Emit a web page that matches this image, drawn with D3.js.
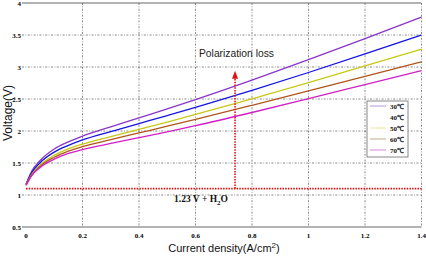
<!DOCTYPE html>
<html><head><meta charset="utf-8">
<script src="https://cdn.jsdelivr.net/npm/d3@7/dist/d3.min.js"></script>
<style>body{margin:0;background:#fff}svg{display:block}</style>
</head><body>
<svg id="c" width="426" height="256"></svg>
<script>
const currents = [0, 0.02, 0.05, 0.1, 0.15, 0.2, 0.3, 0.4, 0.5, 0.6, 0.8, 1.0, 1.2, 1.4];
const v30 = [1.17, 1.37, 1.54, 1.72, 1.83, 1.92, 2.065, 2.205, 2.345, 2.49, 2.794, 3.114, 3.444, 3.78];
const v40 = [1.165, 1.345, 1.505, 1.67, 1.775, 1.86, 1.991, 2.116, 2.241, 2.368, 2.634, 2.914, 3.204, 3.50];
const v50 = [1.16, 1.32, 1.47, 1.62, 1.72, 1.795, 1.912, 2.026, 2.14, 2.258, 2.502, 2.756, 3.016, 3.28];
const v60 = [1.155, 1.31, 1.45, 1.59, 1.685, 1.755, 1.865, 1.97, 2.075, 2.182, 2.402, 2.626, 2.852, 3.08];
const v70 = [1.15, 1.30, 1.43, 1.56, 1.65, 1.71, 1.805, 1.895, 1.987, 2.083, 2.289, 2.505, 2.725, 2.945];
const seriesNames = ["30℃", "40℃", "50℃", "60℃", "70℃"];
const seriesValues = [v30, v40, v50, v60, v70];
const xTicks = [0, 0.2, 0.4, 0.6, 0.8, 1, 1.2, 1.4];
const yTicks = [0.5, 1, 1.5, 2, 2.5, 3, 3.5, 4];
const baselineV = 1.1;
const arrowI = 0.74, arrowTopV = 2.94;

const colors = ["#8a35c8", "#1414e6", "#c8c814", "#b0561a", "#d21ec8"];
const legendColors = ["#b89ad8", null, "#e6e6a0", "#c4a888", "#d88ad8"];

const svg = d3.select("#c");
const x = d3.scaleLinear().domain([0, 1.4]).range([26, 421.5]);
const y = d3.scaleLinear().domain([0.5, 4]).range([227, 3]);

// grid
const g = svg.append("g");
g.selectAll(".hg").data(yTicks.filter(v => v > 0.5 && v < 4)).enter().append("line")
  .attr("x1", 22).attr("x2", x(1.4)).attr("y1", d => y(d)).attr("y2", d => y(d))
  .attr("stroke", "#6a6a6a").attr("stroke-width", 0.8).attr("stroke-dasharray", "2,1.5,0.8,1.5");
g.selectAll(".vg").data(xTicks.filter(v => v > 0)).enter().append("line")
  .attr("x1", d => x(d)).attr("x2", d => x(d)).attr("y1", y(4)).attr("y2", y(0.5))
  .attr("stroke", "#6a6a6a").attr("stroke-width", 0.8).attr("stroke-dasharray", "2,1.5,0.8,1.5");
[4, 0.5].forEach(v => g.append("line").attr("x1", 22).attr("x2", x(1.4))
  .attr("y1", y(v)).attr("y2", y(v)).attr("stroke", "#666").attr("stroke-width", 1));

// tick labels
const tickFont = "'Liberation Serif', 'Times New Roman', serif";
svg.append("g").selectAll("text").data(yTicks).enter().append("text")
  .attr("x", 21).attr("y", d => y(d) + 2.5).attr("text-anchor", "end")
  .attr("font-family", tickFont).attr("font-weight", "bold").attr("font-size", 7)
  .text(d => d);
svg.append("g").selectAll("text").data(xTicks).enter().append("text")
  .attr("x", d => x(d)).attr("y", 238).attr("text-anchor", "middle")
  .attr("font-family", tickFont).attr("font-weight", "bold").attr("font-size", 7)
  .text(d => d);

// axis titles
const sans = "'Liberation Sans', Arial, sans-serif";
const xt = svg.append("text").attr("x", 224).attr("y", 252).attr("text-anchor", "middle")
  .attr("font-family", sans).attr("font-size", 11).attr("fill", "#111");
xt.append("tspan").text("Current density(A/cm");
xt.append("tspan").attr("dy", -4).attr("font-size", 8).text("2");
xt.append("tspan").attr("dy", 4).text(")");
svg.append("text").attr("transform", "translate(12,113) rotate(-90)").attr("text-anchor", "middle")
  .attr("font-family", sans).attr("font-size", 12).attr("fill", "#111").text("Voltage(V)");

// red baseline
svg.append("line").attr("x1", x(0)).attr("x2", x(1.4)).attr("y1", y(baselineV)).attr("y2", y(baselineV))
  .attr("stroke", "#e01010").attr("stroke-width", 1.6).attr("stroke-dasharray", "1.5,1.2");

// curves
const line = d3.line().x((d, i) => x(currents[i])).y(d => y(d)).curve(d3.curveMonotoneX);
svg.append("g").selectAll("path").data(seriesValues).enter().append("path")
  .attr("d", d => line(d)).attr("fill", "none").attr("stroke", (d, i) => colors[i]).attr("stroke-width", 1.3);

// arrow
const ax = x(arrowI), ay = y(arrowTopV);
svg.append("line").attr("x1", ax).attr("x2", ax).attr("y1", y(baselineV)).attr("y2", ay + 6)
  .attr("stroke", "#e01010").attr("stroke-width", 1.6).attr("stroke-dasharray", "1.5,1.2");
svg.append("path").attr("d", `M${ax},${ay} L${ax - 3},${ay + 8} L${ax + 3},${ay + 8} Z`).attr("fill", "#e01010");

svg.append("text").attr("x", 199).attr("y", 57).attr("font-family", sans).attr("font-size", 10.3)
  .attr("fill", "#222").text("Polarization loss");

const bt = svg.append("text").attr("x", 174).attr("y", 202).attr("font-family", tickFont)
  .attr("font-weight", "bold").attr("font-size", 9.5).attr("fill", "#111");
bt.append("tspan").text("1.23 V + H");
bt.append("tspan").attr("dy", 3).attr("font-size", 7).text("2");
bt.append("tspan").attr("dy", -3).text("O");

// legend
const lg = svg.append("g");
lg.append("rect").attr("x", 367).attr("y", 101).attr("width", 41).attr("height", 56)
  .attr("fill", "#fff").attr("stroke", "#888").attr("stroke-width", 1);
seriesNames.forEach((n, i) => {
  const yy = 106 + i * 11;
  if (legendColors[i]) lg.append("line").attr("x1", 370).attr("x2", 386).attr("y1", yy).attr("y2", yy)
    .attr("stroke", legendColors[i]).attr("stroke-width", 1);
  lg.append("text").attr("x", 404).attr("y", yy + 2.5).attr("text-anchor", "end")
    .attr("font-family", tickFont).attr("font-weight", "bold").attr("font-size", 7).attr("fill", "#111").text(n);
});
</script>
</body></html>
